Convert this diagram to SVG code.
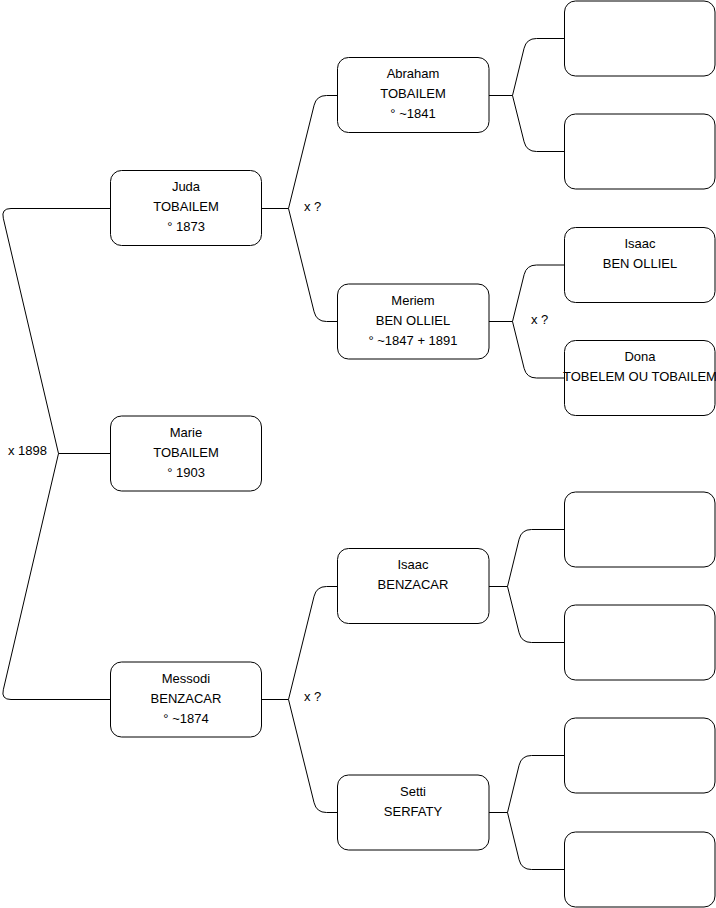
<svg xmlns="http://www.w3.org/2000/svg" width="716" height="908" viewBox="0 0 716 908">
<style>
.box{fill:#fff;stroke:#000;stroke-width:1}
.ln{fill:none;stroke:#000;stroke-width:1}
text{font-family:"Liberation Sans",Arial,Helvetica,sans-serif;font-size:13px;fill:#000}
.c{text-anchor:middle}
</style>
<rect width="716" height="908" fill="#fff"/>
<g id="connectors">
<path class="ln" d="M58.5,453.5 L3.3,218.2 Q1,208.5 11,208.5 H110.5"/>
<path class="ln" d="M58.5,453.5 L3.3,689.8 Q1,699.5 11,699.5 H110.5"/>
<path class="ln" d="M58.5,453.5 H110.5"/>
<path class="ln" d="M261.5,208.5 H288.5 L314.1,105.2 Q316.5,95.5 326.5,95.5 H337.5"/>
<path class="ln" d="M288.5,208.5 L314.1,311.8 Q316.5,321.5 326.5,321.5 H337.5"/>
<path class="ln" d="M261.5,699.5 H288.5 L314.1,596.2 Q316.5,586.5 326.5,586.5 H337.5"/>
<path class="ln" d="M288.5,699.5 L314.1,802.8 Q316.5,812.5 326.5,812.5 H337.5"/>
<path class="ln" d="M489,95.5 H512.5 L524.1,48.2 Q526.5,38.5 536.5,38.5 H564.5"/>
<path class="ln" d="M512.5,95.5 L524.1,141.8 Q526.5,151.5 536.5,151.5 H564.5"/>
<path class="ln" d="M489,321.5 H512.5 L524.1,274.7 Q526.5,265 536.5,265 H564.5"/>
<path class="ln" d="M512.5,321.5 L524.1,368.3 Q526.5,378 536.5,378 H564.5"/>
<path class="ln" d="M489,586.5 H507.5 L519.1,539.2 Q521.5,529.5 531.5,529.5 H564.5"/>
<path class="ln" d="M507.5,586.5 L519.1,632.8 Q521.5,642.5 531.5,642.5 H564.5"/>
<path class="ln" d="M489,812.5 H507.5 L519.1,765.2 Q521.5,755.5 531.5,755.5 H564.5"/>
<path class="ln" d="M507.5,812.5 L519.1,859.8 Q521.5,869.5 531.5,869.5 H564.5"/>
<text x="8" y="455">x 1898</text>
<text x="304" y="211">x ?</text>
<text x="531" y="324">x ?</text>
<text x="304" y="701">x ?</text>
</g>
<g id="juda"><rect class="box" x="110.5" y="170.5" width="151" height="75" rx="11"/>
<text class="c" x="186" y="191">Juda</text><text class="c" x="186" y="211">TOBAILEM</text><text class="c" x="186" y="231">° 1873</text></g>
<g id="marie"><rect class="box" x="110.5" y="416" width="151" height="75" rx="11"/>
<text class="c" x="186" y="436.5">Marie</text><text class="c" x="186" y="456.5">TOBAILEM</text><text class="c" x="186" y="476.5">° 1903</text></g>
<g id="messodi"><rect class="box" x="110.5" y="662" width="151" height="75" rx="11"/>
<text class="c" x="186" y="682.5">Messodi</text><text class="c" x="186" y="702.5">BENZACAR</text><text class="c" x="186" y="722.5">° ~1874</text></g>
<g id="abraham"><rect class="box" x="337.5" y="57.5" width="151.5" height="75" rx="11"/>
<text class="c" x="413" y="77.5">Abraham</text><text class="c" x="413" y="97.5">TOBAILEM</text><text class="c" x="413" y="117.5">° ~1841</text></g>
<g id="meriem"><rect class="box" x="337.5" y="284" width="151.5" height="75" rx="11"/>
<text class="c" x="413" y="304.5">Meriem</text><text class="c" x="413" y="324.5">BEN OLLIEL</text><text class="c" x="413" y="344.5">° ~1847 + 1891</text></g>
<g id="isaac-benzacar"><rect class="box" x="337.5" y="548.5" width="151.5" height="75" rx="11"/>
<text class="c" x="413" y="569">Isaac</text><text class="c" x="413" y="589">BENZACAR</text></g>
<g id="setti"><rect class="box" x="337.5" y="775" width="151.5" height="75" rx="11"/>
<text class="c" x="413" y="795.5">Setti</text><text class="c" x="413" y="815.5">SERFATY</text></g>
<g id="p1"><rect class="box" x="564.5" y="1" width="150.5" height="75" rx="11"/></g>
<g id="p2"><rect class="box" x="564.5" y="114" width="150.5" height="75" rx="11"/></g>
<g id="isaac-ben-olliel"><rect class="box" x="564.5" y="227.5" width="150.5" height="75" rx="11"/>
<text class="c" x="640" y="248">Isaac</text><text class="c" x="640" y="268">BEN OLLIEL</text></g>
<g id="dona"><rect class="box" x="564.5" y="340.5" width="150.5" height="75" rx="11"/>
<text class="c" x="640" y="360.5">Dona</text><text class="c" x="640" y="380.5">TOBELEM OU TOBAILEM</text></g>
<g id="p5"><rect class="box" x="564.5" y="492" width="150.5" height="75" rx="11"/></g>
<g id="p6"><rect class="box" x="564.5" y="605" width="150.5" height="75" rx="11"/></g>
<g id="p7"><rect class="box" x="564.5" y="718" width="150.5" height="75" rx="11"/></g>
<g id="p8"><rect class="box" x="564.5" y="832" width="150.5" height="75" rx="11"/></g>
</svg>
